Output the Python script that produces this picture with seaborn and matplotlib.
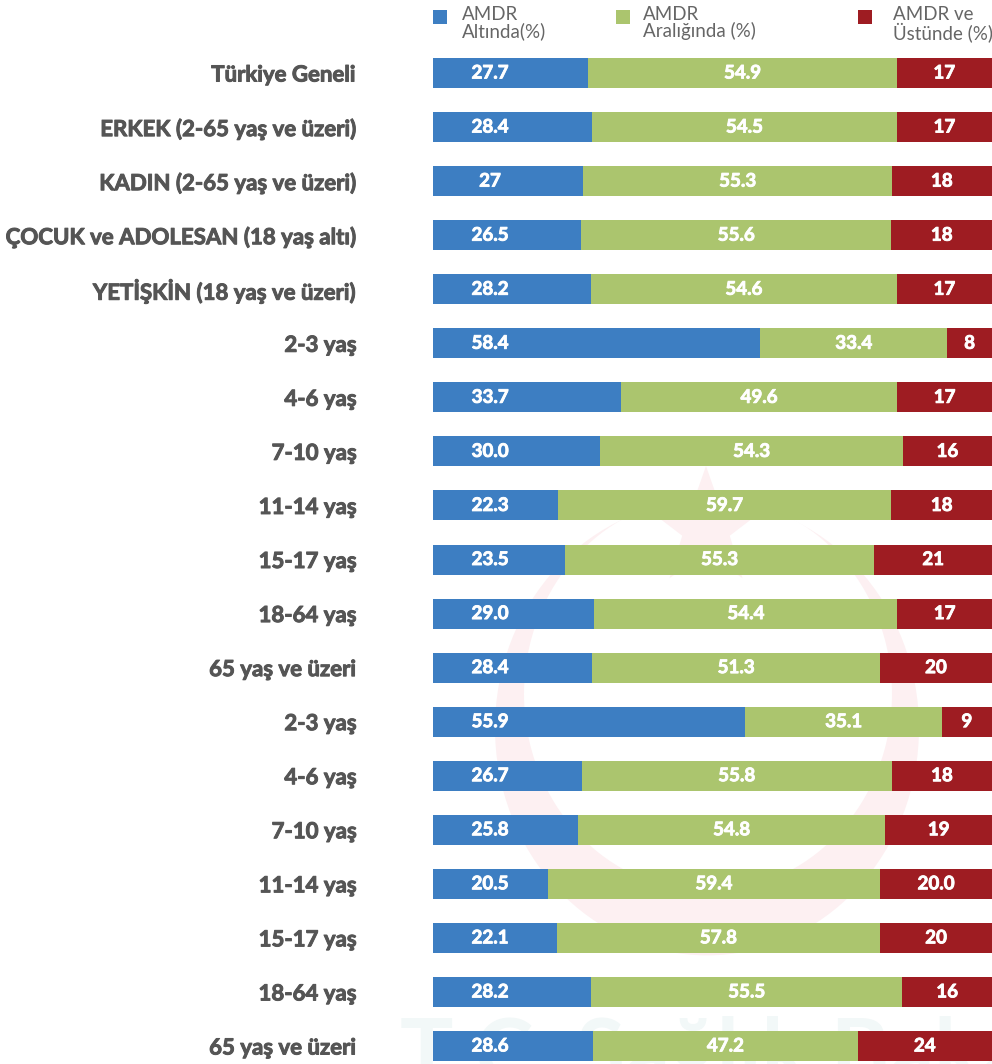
import numpy as np
import pandas as pd
import matplotlib
matplotlib.use("Agg")
import matplotlib.pyplot as plt
import matplotlib.patheffects as pe
from matplotlib.patches import Rectangle, Circle, Polygon
import seaborn as sns

# Row labels (top to bottom)
groups = [
    "Türkiye Geneli",
    "ERKEK (2-65 yaş ve üzeri)",
    "KADIN (2-65 yaş ve üzeri)",
    "ÇOCUK ve ADOLESAN (18 yaş altı)",
    "YETİŞKİN (18 yaş ve üzeri)",
    "2-3 yaş", "4-6 yaş", "7-10 yaş", "11-14 yaş", "15-17 yaş",
    "18-64 yaş", "65 yaş ve üzeri",
    "2-3 yaş", "4-6 yaş", "7-10 yaş", "11-14 yaş", "15-17 yaş",
    "18-64 yaş", "65 yaş ve üzeri",
]

# Shares (%) as printed on the bars
below = ["27.7", "28.4", "27", "26.5", "28.2", "58.4", "33.7", "30.0", "22.3",
         "23.5", "29.0", "28.4", "55.9", "26.7", "25.8", "20.5", "22.1", "28.2", "28.6"]
within = ["54.9", "54.5", "55.3", "55.6", "54.6", "33.4", "49.6", "54.3", "59.7",
          "55.3", "54.4", "51.3", "35.1", "55.8", "54.8", "59.4", "57.8", "55.5", "47.2"]
above = ["17", "17", "18", "18", "17", "8", "17", "16", "18",
         "21", "17", "20", "9", "18", "19", "20.0", "20", "16", "24"]

series_names = ["AMDR\nAltında(%)", "AMDR\nAralığında (%)", "AMDR ve\nÜstünde (%)"]
colors = ["#3d7ec2", "#abc56e", "#9e1c22"]

b = np.array([float(v) for v in below])
w = np.array([float(v) for v in within])
a = np.array([float(v) for v in above])
total = b + w + a
# stacked 100% bars: cumulative right edges of each segment
edge1 = b / total * 100
edge2 = (b + w) / total * 100
edge3 = (b + w + a) / total * 100

df = pd.DataFrame({"row": np.arange(len(groups)), "e1": edge1, "e2": edge2, "e3": edge3})

sns.set_theme(style="white")
plt.rcParams["font.family"] = ["Lato", "DejaVu Sans"]

W, H = 992, 1064
fig = plt.figure(figsize=(W / 100, H / 100), dpi=100)


def fx(px):
    return px / W


def fy(py):
    return 1 - py / H


# faint background emblem: crescent, star and ministry name
pink = "#fdf0f2"
fig.add_artist(Circle((fx(707), fy(728)), 212 / W, transform=fig.transFigure,
                      color=pink, lw=0, zorder=0))
fig.add_artist(Circle((fx(708), fy(694)), 184 / W, transform=fig.transFigure,
                      color="white", lw=0, zorder=0))
ang = np.pi / 2 + np.arange(10) * np.pi / 5
rad = np.where(np.arange(10) % 2 == 0, 62, 25)
star = [(fx(706 + r * np.cos(t)), fy(528 - r * np.sin(t))) for r, t in zip(rad, ang)]
fig.add_artist(Polygon(star, closed=True, transform=fig.transFigure,
                       color=pink, lw=0, zorder=0))
fig.text(fx(400), fy(1082), "T.C. Sağlık Bakanlığı", fontsize=64, fontweight="bold",
         color="#f2f8f8", ha="left", va="baseline", zorder=0)

ax = fig.add_axes([433 / W, 0, 559 / W, 1018 / H])
ax.set_zorder(2)
ax.patch.set_alpha(0)

bar_h = 0.555
for col, c in zip(["e3", "e2", "e1"], colors[::-1]):
    sns.barplot(data=df, x=col, y="row", orient="h", color=c, width=bar_h,
                saturation=1, ax=ax, linewidth=0, order=list(range(len(groups))))

ax.set_xlim(0, 100)
ax.set_ylim(18.333, -0.5)
ax.set_xlabel("")
ax.set_ylabel("")
ax.set_xticks([])
ax.set_yticks(range(len(groups)))
ax.set_yticklabels(groups, fontsize=16, fontweight="bold", color="#555555")
for t in ax.get_yticklabels():
    t.set_path_effects([pe.withStroke(linewidth=0.7, foreground="#555555")])
ax.tick_params(axis="y", length=0, pad=55)
for s in ax.spines.values():
    s.set_visible(False)

thick = [pe.withStroke(linewidth=0.6, foreground="white")]
lab_kw = dict(color="white", fontsize=13.5, fontweight="bold", ha="center", va="center",
              path_effects=thick)
for i in range(len(groups)):
    ax.text(10.2, i, below[i], **lab_kw)
    ax.text((edge1[i] + edge2[i]) / 2, i, within[i], **lab_kw)
    ax.text((edge2[i] + edge3[i]) / 2, i, above[i], **lab_kw)

# legend drawn at the top
leg_sq_x = [433, 616, 858]
leg_tx_x = [462, 643, 893]
for sx, tx, name, c in zip(leg_sq_x, leg_tx_x, series_names, colors):
    fig.add_artist(Rectangle((fx(sx), fy(24)), 14 / W, 14 / H,
                             transform=fig.transFigure, color=c, lw=0))
    fig.text(fx(tx), fy(6), name, ha="left", va="top", fontsize=13.5,
             color="#666666", linespacing=0.95)

fig.savefig("out.png", dpi=100)
